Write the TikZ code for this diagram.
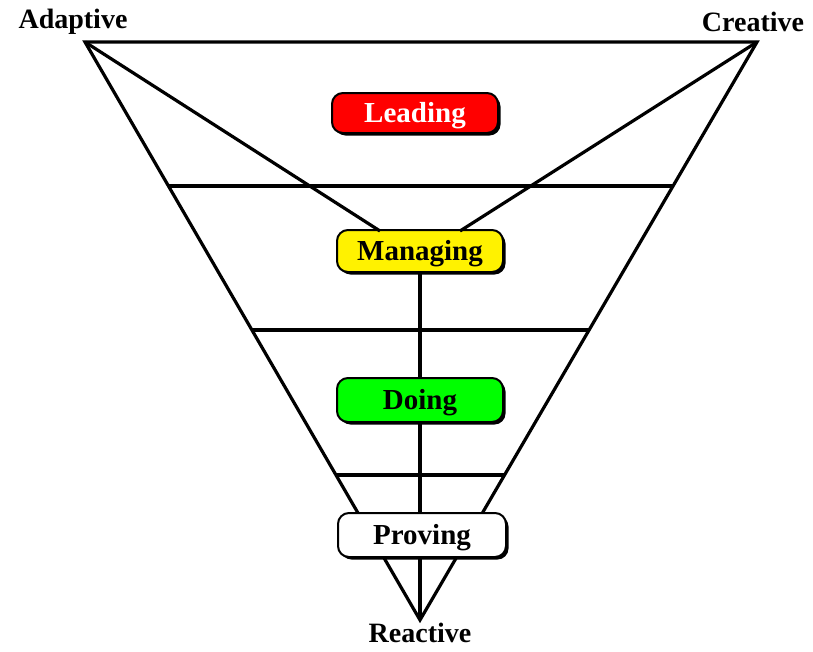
\documentclass[tikz,border=0pt]{standalone}
\usepackage{fontspec}
\setmainfont{Liberation Serif}
\usetikzlibrary{shadows,backgrounds}
\begin{document}
\begin{tikzpicture}[x=1pt,y=-1pt,
  edge/.style={line width=3.2pt},
  tier/.style={draw=black, line width=2pt, rounded corners=11pt,
    minimum width=166pt, minimum height=42pt, inner sep=0pt,
    text height=21pt, text depth=3pt,
    font=\fontsize{29}{33}\selectfont\bfseries,
    drop shadow={shadow xshift=2.5pt, shadow yshift=-2.5pt, fill=black, opacity=1}},
  corner/.style={font=\fontsize{28}{32}\selectfont\bfseries, inner sep=0pt}]
\useasboundingbox (0,0) rectangle (813,651);

% vertices of the inverted triangle
\coordinate (A) at (85,42);
\coordinate (C) at (757,42);
\coordinate (R) at (420,620);

% level dividers, ends placed on the triangle sides
\path (A) -- (R) coordinate[pos=0.2491] (l1) coordinate[pos=0.4983] (l2) coordinate[pos=0.7491] (l3);
\path (C) -- (R) coordinate[pos=0.2491] (r1) coordinate[pos=0.4983] (r2) coordinate[pos=0.7491] (r3);

\draw[edge] (A) -- (C) -- (R) -- cycle;
\draw[edge] (l1) -- (r1);
\draw[edge] (l2) -- (r2);
\draw[edge] (l3) -- (r3);

% the tiers
\node[tier, fill=red, text=white, minimum height=40pt] (lead) at (415,113) {Leading};
\node[tier, fill=yellow] (manage) at (420,251) {Managing};
\node[tier, fill=green, minimum height=44pt] (doing) at (420,400) {Doing};
\node[tier, fill=white, minimum width=168pt, minimum height=44pt] (prove) at (422,535) {Proving};

% links from the corners and the central spine behind the tiers
\coordinate (ml) at (380,231);
\coordinate (mr) at (460,231);
\draw[edge] (A) -- (ml);
\draw[edge] (C) -- (mr);
\begin{scope}[on background layer]
  \draw[edge] (manage.south) -- (R);
\end{scope}

% corner labels
\node[corner] (adaptive) at (73,22) {Adaptive};
\node[corner] (creative) at (753,22) {Creative};
\node[corner] (reactive) at (420,633) {Reactive};
\end{tikzpicture}
\end{document}
